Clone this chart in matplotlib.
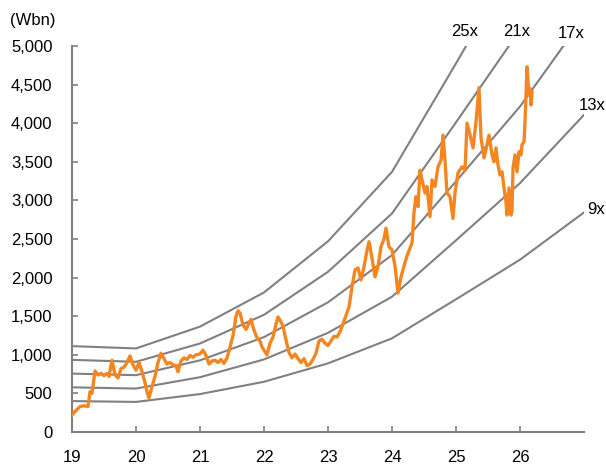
import matplotlib
matplotlib.use("Agg")
import matplotlib.pyplot as plt
import numpy as np

plt.rcParams['font.family'] = ['Liberation Sans', 'DejaVu Sans']

# PER band: forward EPS (Wbn) at each year node and band multiples
band_years = [19, 20, 21, 22, 23, 24, 25, 26, 27]
band_eps = [44.5, 43.3, 54.6, 72.3, 98.8, 134.8, 191, 248, 316]
multiples = [9, 13, 17, 21, 25]
band_labels = ["9x", "13x", "17x", "21x", "25x"]

# Market capitalisation (Wbn)
price_years = [
    19.000, 19.063, 19.125, 19.188, 19.250, 19.281, 19.313, 19.359, 19.406, 19.453,
    19.500, 19.547, 19.578, 19.625, 19.672, 19.719, 19.766, 19.813, 19.859, 19.906,
    19.953, 20.000, 20.047, 20.094, 20.141, 20.172, 20.203, 20.250, 20.297, 20.344,
    20.391, 20.438, 20.484, 20.531, 20.578, 20.625, 20.656, 20.703, 20.750, 20.797,
    20.844, 20.891, 20.938, 21.000, 21.047, 21.094, 21.141, 21.188, 21.234, 21.281,
    21.328, 21.375, 21.422, 21.469, 21.516, 21.563, 21.594, 21.625, 21.672, 21.719,
    21.766, 21.797, 21.828, 21.875, 21.906, 21.938, 21.969, 22.000, 22.047, 22.094,
    22.141, 22.188, 22.219, 22.250, 22.297, 22.344, 22.391, 22.438, 22.484, 22.531,
    22.578, 22.625, 22.672, 22.719, 22.766, 22.813, 22.859, 22.906, 22.953, 23.000,
    23.047, 23.094, 23.141, 23.188, 23.234, 23.281, 23.328, 23.375, 23.422, 23.469,
    23.516, 23.563, 23.609, 23.641, 23.688, 23.734, 23.781, 23.828, 23.875, 23.906,
    23.953, 24.000, 24.047, 24.094, 24.141, 24.188, 24.234, 24.281, 24.313, 24.344,
    24.375, 24.406, 24.438, 24.469, 24.516, 24.547, 24.594, 24.625, 24.672, 24.719,
    24.766, 24.797, 24.828, 24.859, 24.906, 24.953, 24.984, 25.031, 25.094, 25.141,
    25.172, 25.219, 25.266, 25.313, 25.359, 25.391, 25.438, 25.484, 25.516, 25.563,
    25.594, 25.625, 25.656, 25.688, 25.719, 25.750, 25.781, 25.797, 25.828, 25.859,
    25.875, 25.891, 25.922, 25.953, 25.984, 26.016, 26.031, 26.063, 26.078, 26.094,
    26.109, 26.141, 26.156, 26.172, 26.188,
]
price_values = [
    220, 280, 330, 340, 330, 520, 500, 790, 740, 760,
    730, 760, 720, 930, 740, 700, 820, 840, 900, 985,
    870, 800, 900, 780, 640, 520, 440, 590, 720, 900,
    1020, 950, 880, 900, 870, 860, 780, 920, 960, 940,
    990, 970, 1000, 1010, 1060, 990, 880, 920, 930, 900,
    940, 890, 960, 1100, 1250, 1500, 1570, 1540, 1385, 1330,
    1410, 1460, 1360, 1250, 1200, 1180, 1100, 1060, 1000, 1150,
    1230, 1400, 1490, 1450, 1370, 1190, 1030, 960, 1010, 950,
    900, 950, 860, 880, 940, 1020, 1180, 1200, 1150, 1120,
    1180, 1240, 1230, 1300, 1400, 1510, 1620, 1880, 2100, 2125,
    1970, 2140, 2350, 2465, 2250, 2010, 2140, 2400, 2500, 2640,
    2400, 2360, 2150, 1800, 2010, 2150, 2280, 2380, 2450, 2850,
    3050, 2920, 3390, 3265, 3095, 3180, 2790, 3265, 3180, 3435,
    3520, 3845, 3520, 3095, 3050, 2765, 3095, 3355, 3435, 3390,
    4000, 3850, 3680, 4020, 4460, 3810, 3550, 3720, 3845, 3590,
    3500, 3680, 3460, 3330, 3370, 3160, 2980, 2810, 3160, 2810,
    2860, 3420, 3590, 3370, 3630, 3590, 3720, 3760, 4020, 4365,
    4730, 4365, 4450, 4235, 4400,
]

x_ticks = [19, 20, 21, 22, 23, 24, 25, 26]
y_ticks = [0, 500, 1000, 1500, 2000, 2500, 3000, 3500, 4000, 4500, 5000]

fig = plt.figure(figsize=(6.06, 4.66), dpi=100)
ax = fig.add_axes([72 / 606, 1 - 432 / 466, 512 / 606, 386 / 466])

gray = "#808080"
for m in multiples:
    ax.plot(band_years, np.array(band_eps) * m, color=gray, lw=1.5, zorder=2)

ax.plot(price_years, price_values, color="#F5861F", lw=2.4, zorder=3,
        solid_joinstyle="round")

ax.set_xlim(19, 27)
ax.set_ylim(0, 5000)
ax.set_xticks(x_ticks)
ax.set_xticklabels([str(t) for t in x_ticks])
ax.set_yticks(y_ticks)
ax.set_yticklabels([f"{t:,}" for t in y_ticks])

for side in ("top", "right"):
    ax.spines[side].set_visible(False)
for side in ("left", "bottom"):
    ax.spines[side].set_color(gray)
    ax.spines[side].set_linewidth(1.5)

ax.tick_params(axis="both", direction="in", length=4, width=1.2, color=gray,
               labelsize=12, labelcolor="black")
ax.tick_params(axis="y", pad=14)
ax.tick_params(axis="x", pad=13)

fig.text(10 / 606, 1 - 20 / 466, "(Wbn)", fontsize=12, ha="left", va="center")

label_pos = {
    "25x": (465, 31), "21x": (517, 31), "17x": (571, 33),
    "13x": (592, 106), "9x": (596, 210),
}
for lab in band_labels:
    px, py = label_pos[lab]
    fig.text(px / 606, 1 - py / 466, lab, fontsize=12, ha="center", va="center")

fig.savefig("out.png", dpi=100)
